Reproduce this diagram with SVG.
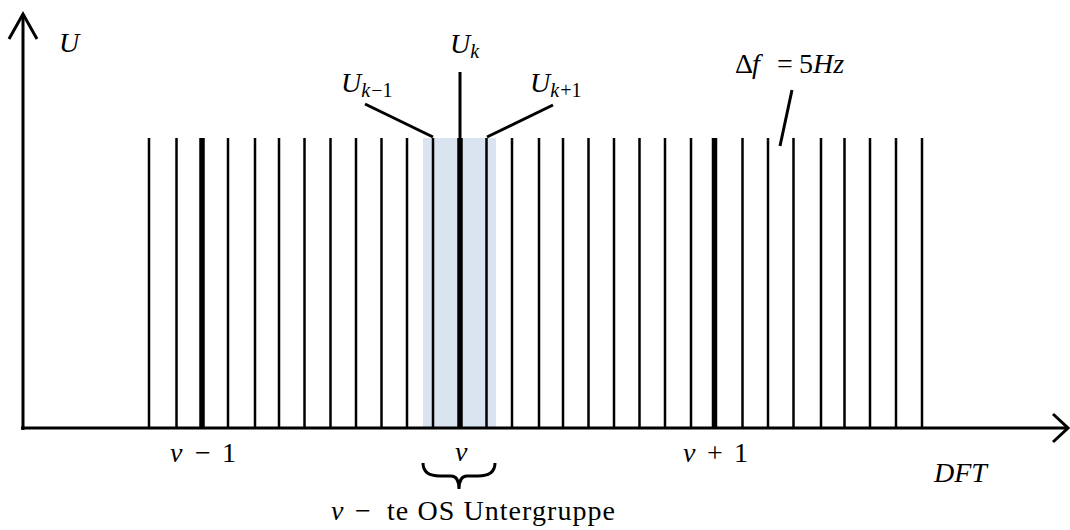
<svg xmlns="http://www.w3.org/2000/svg" width="1070" height="530" viewBox="0 0 1070 530">
<style>
.ax{stroke:#000;stroke-width:3;fill:none;stroke-linecap:butt}
.ln{stroke:#000;stroke-width:2.5}
.lk{stroke:#000;stroke-width:5.5}
.ld{stroke:#000;stroke-width:3;fill:none}
text{font-family:"Liberation Serif","DejaVu Serif",serif;fill:#000;font-size:28px}
.i{font-style:italic}
.s{font-style:italic;font-size:20px}
.u{font-style:normal}
</style>
<rect id="band" x="423" y="138" width="73" height="289" fill="#DAE3F0"/>
<g id="spectrum">
<line class="ln" x1="149" y1="138" x2="149" y2="428"/>
<line class="ln" x1="176.5" y1="138" x2="176.5" y2="428"/>
<line class="lk" x1="202" y1="138" x2="202" y2="428"/>
<line class="ln" x1="228" y1="138" x2="228" y2="428"/>
<line class="ln" x1="255" y1="138" x2="255" y2="428"/>
<line class="ln" x1="279" y1="138" x2="279" y2="428"/>
<line class="ln" x1="304.5" y1="138" x2="304.5" y2="428"/>
<line class="ln" x1="330.5" y1="138" x2="330.5" y2="428"/>
<line class="ln" x1="356" y1="138" x2="356" y2="428"/>
<line class="ln" x1="381.5" y1="138" x2="381.5" y2="428"/>
<line class="ln" x1="407" y1="138" x2="407" y2="428"/>
<line class="ln" x1="433" y1="138" x2="433" y2="428"/>
<line class="lk" x1="460" y1="138" x2="460" y2="428"/>
<line class="ln" x1="486.5" y1="138" x2="486.5" y2="428"/>
<line class="ln" x1="512" y1="138" x2="512" y2="428"/>
<line class="ln" x1="539" y1="138" x2="539" y2="428"/>
<line class="ln" x1="563" y1="138" x2="563" y2="428"/>
<line class="ln" x1="588.5" y1="138" x2="588.5" y2="428"/>
<line class="ln" x1="614" y1="138" x2="614" y2="428"/>
<line class="ln" x1="639.5" y1="138" x2="639.5" y2="428"/>
<line class="ln" x1="665" y1="138" x2="665" y2="428"/>
<line class="ln" x1="691" y1="138" x2="691" y2="428"/>
<line class="lk" x1="714.5" y1="138" x2="714.5" y2="428"/>
<line class="ln" x1="742.5" y1="138" x2="742.5" y2="428"/>
<line class="ln" x1="768" y1="138" x2="768" y2="428"/>
<line class="ln" x1="793.5" y1="138" x2="793.5" y2="428"/>
<line class="ln" x1="821" y1="138" x2="821" y2="428"/>
<line class="ln" x1="844.5" y1="138" x2="844.5" y2="428"/>
<line class="ln" x1="870" y1="138" x2="870" y2="428"/>
<line class="ln" x1="896" y1="138" x2="896" y2="428"/>
<line class="ln" x1="922" y1="138" x2="922" y2="428"/>
</g>
<g id="axes">
<line class="ax" x1="23" y1="430" x2="23" y2="14"/>
<polyline class="ax" points="9,39 23,14 37,39"/>
<line class="ax" x1="21" y1="428" x2="1068" y2="428"/>
<polyline class="ax" points="1053,414 1068,428 1053,442"/>
</g>
<g id="connectors">
<line class="ld" x1="460" y1="72" x2="460" y2="138"/>
<line class="ld" x1="365" y1="104" x2="433" y2="137"/>
<line class="ld" x1="553" y1="105" x2="487" y2="137"/>
<line class="ld" x1="792" y1="90" x2="780" y2="146"/>
<path class="ld" stroke-width="2.5" d="M423,463 Q423,476 440,476 L451,476 Q459,476 459,489 Q459,476 467,476 L478,476 Q495,476 495,463"/>
</g>
<g id="labels">
<text class="i" x="59" y="52">U</text>
<text x="450" y="53"><tspan class="i">U</tspan><tspan class="s" dy="5">k</tspan></text>
<text x="341" y="92"><tspan class="i">U</tspan><tspan class="s" dy="5">k<tspan class="u" dx="1">−1</tspan></tspan></text>
<text x="530" y="92"><tspan class="i">U</tspan><tspan class="s" dy="5">k<tspan class="u" dx="1">+1</tspan></tspan></text>
<text y="73"><tspan x="735">Δ</tspan><tspan class="i" x="752">f</tspan><tspan x="777">=</tspan><tspan x="799">5</tspan><tspan class="i" x="813">Hz</tspan></text>
<text y="462"><tspan class="i" x="170">ν</tspan><tspan x="195">−</tspan><tspan x="222">1</tspan></text>
<text class="i" x="455" y="461">ν</text>
<text y="462"><tspan class="i" x="683">ν</tspan><tspan x="707">+</tspan><tspan x="734">1</tspan></text>
<text class="i" x="934" y="482">DFT</text>
<text y="520"><tspan class="i" x="331">ν</tspan><tspan x="355">−</tspan><tspan x="387" textLength="228" lengthAdjust="spacing">te OS Untergruppe</tspan></text>
</g>
</svg>
